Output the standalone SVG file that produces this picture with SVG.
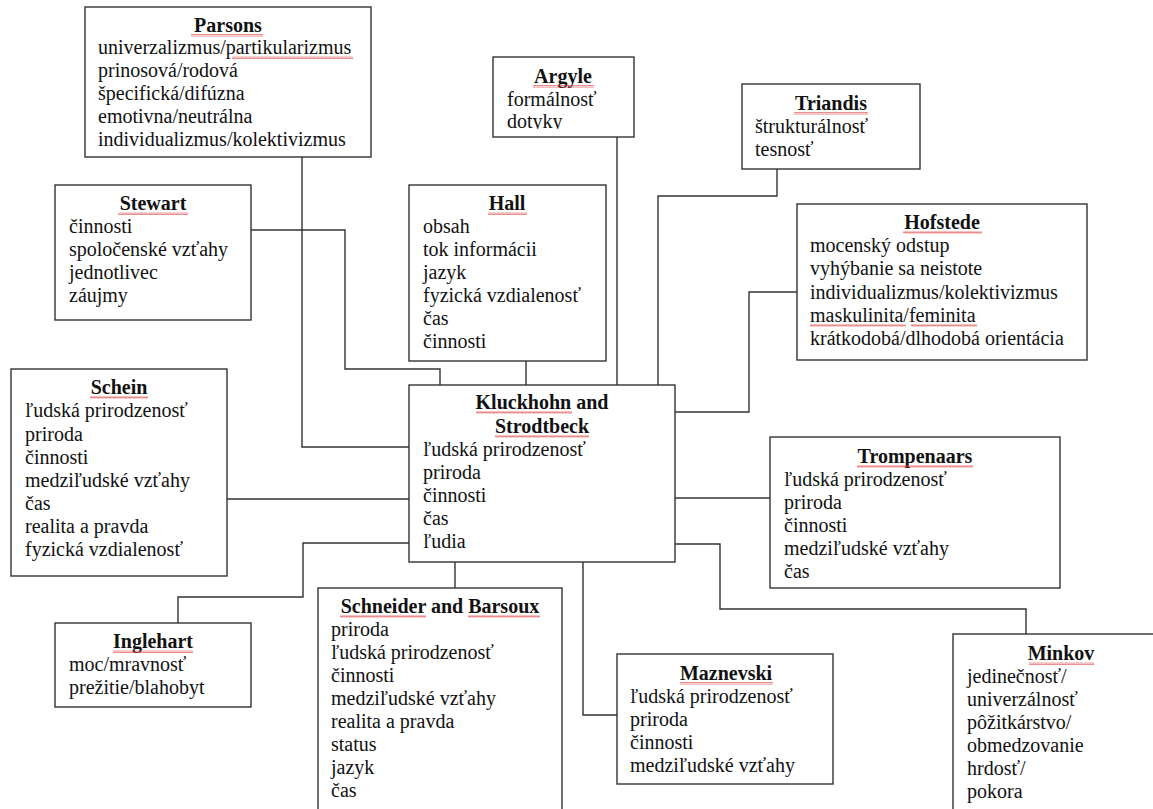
<svg xmlns="http://www.w3.org/2000/svg" width="1153" height="809" viewBox="0 0 1153 809">
<style>
.box{fill:#fff;stroke:#333;stroke-width:1.4}
.t{font-family:"Liberation Serif","Times New Roman",serif;font-size:20px;fill:#111}
.h{font-family:"Liberation Serif","Times New Roman",serif;font-size:20px;font-weight:bold;fill:#111;text-anchor:middle}
.c{fill:none;stroke:#333;stroke-width:1.4}
.w{fill:url(#wave)}
</style>
<defs>
<pattern id="wave" patternUnits="userSpaceOnUse" width="4" height="3">
<path d="M0,2.6 L1,0.4 L2,2.6 L3,0.4 L4,2.6" fill="none" stroke="#e04040" stroke-width="0.6"/>
</pattern>
<clipPath id="argClip"><rect x="493" y="57" width="141" height="72"/></clipPath>
</defs>
<rect width="1153" height="809" fill="#fff"/>

<g id="connectors">
<path class="c" d="M302,157 V447 H409"/>
<path class="c" d="M251,230 H345 V369 H440 V385"/>
<path class="c" d="M526,361 V385"/>
<path class="c" d="M617,137 V385"/>
<path class="c" d="M777,169 V196 H658 V385"/>
<path class="c" d="M797,292 H749 V412 H675"/>
<path class="c" d="M675,498 H770"/>
<path class="c" d="M675,544 H720 V609 H1026 V634"/>
<path class="c" d="M583,562 V715 H617"/>
<path class="c" d="M455,562 V588"/>
<path class="c" d="M410,543 H303 V597 H178 V623"/>
<path class="c" d="M227,499 H410"/>
</g>

<g id="parsons">
<rect class="box" x="85" y="7" width="286" height="150"/>
<text class="h" x="228" y="32">Parsons</text>
<text class="t" x="98" y="54">univerzalizmus/partikularizmus</text>
<text class="t" x="98" y="77">prinosová/rodová</text>
<text class="t" x="98" y="100">špecifická/difúzna</text>
<text class="t" x="98" y="123">emotivna/neutrálna</text>
<text class="t" x="98" y="146">individualizmus/kolektivizmus</text>
<rect class="w" x="191" y="34" width="72" height="3"/>
<rect class="w" x="232" y="56" width="121" height="3"/>
</g>

<g id="stewart">
<rect class="box" x="55" y="185" width="196" height="135"/>
<text class="h" x="153" y="210">Stewart</text>
<text class="t" x="69" y="233">činnosti</text>
<text class="t" x="69" y="256">spoločenské vzťahy</text>
<text class="t" x="69" y="279">jednotlivec</text>
<text class="t" x="69" y="302">záujmy</text>
<rect class="w" x="118" y="212" width="70" height="3"/>
</g>

<g id="argyle">
<rect class="box" x="493" y="57" width="141" height="80"/>
<text class="h" x="563" y="83">Argyle</text>
<text class="t" x="507" y="106">formálnosť</text>
<text class="t" x="507" y="128" clip-path="url(#argClip)">dotyky</text>
<rect class="w" x="533" y="85" width="61" height="3"/>
</g>

<g id="triandis">
<rect class="box" x="742" y="84" width="178" height="85"/>
<text class="h" x="831" y="110">Triandis</text>
<text class="t" x="755" y="133">štrukturálnosť</text>
<text class="t" x="755" y="156">tesnosť</text>
<rect class="w" x="794" y="112" width="74" height="3"/>
</g>

<g id="hall">
<rect class="box" x="409" y="185" width="197" height="176"/>
<text class="h" x="507" y="210">Hall</text>
<text class="t" x="423" y="233">obsah</text>
<text class="t" x="423" y="256">tok informácii</text>
<text class="t" x="423" y="279">jazyk</text>
<text class="t" x="423" y="302">fyzická vzdialenosť</text>
<text class="t" x="423" y="325">čas</text>
<text class="t" x="423" y="348">činnosti</text>
<rect class="w" x="488" y="212" width="39" height="3"/>
</g>

<g id="hofstede">
<rect class="box" x="797" y="204" width="290" height="156"/>
<text class="h" x="942" y="229">Hofstede</text>
<text class="t" x="810" y="252">mocenský odstup</text>
<text class="t" x="810" y="275">vyhýbanie sa neistote</text>
<text class="t" x="810" y="299">individualizmus/kolektivizmus</text>
<text class="t" x="810" y="322">maskulinita/feminita</text>
<text class="t" x="810" y="345">krátkodobá/dlhodobá orientácia</text>
<rect class="w" x="903" y="231" width="79" height="3"/>
<rect class="w" x="810" y="324" width="96" height="3"/>
<rect class="w" x="911" y="324" width="66" height="3"/>
</g>

<g id="schein">
<rect class="box" x="11" y="369" width="216" height="207"/>
<text class="h" x="119" y="394">Schein</text>
<text class="t" x="25" y="417">ľudská prirodzenosť</text>
<text class="t" x="25" y="441">priroda</text>
<text class="t" x="25" y="464">činnosti</text>
<text class="t" x="25" y="487">medziľudské vzťahy</text>
<text class="t" x="25" y="510">čas</text>
<text class="t" x="25" y="533">realita a pravda</text>
<text class="t" x="25" y="556">fyzická vzdialenosť</text>
<rect class="w" x="90" y="396" width="58" height="3"/>
</g>

<g id="kluckhohn">
<rect class="box" x="409" y="385" width="266" height="177"/>
<text class="h" x="542" y="409">Kluckhohn and</text>
<text class="h" x="542" y="433">Strodtbeck</text>
<text class="t" x="423" y="456">ľudská prirodzenosť</text>
<text class="t" x="423" y="479">priroda</text>
<text class="t" x="423" y="502">činnosti</text>
<text class="t" x="423" y="525">čas</text>
<text class="t" x="423" y="548">ľudia</text>
<rect class="w" x="476" y="411" width="96" height="3"/>
<rect class="w" x="495" y="435" width="94" height="3"/>
</g>

<g id="trompenaars">
<rect class="box" x="770" y="437" width="290" height="151"/>
<text class="h" x="915" y="463">Trompenaars</text>
<text class="t" x="784" y="486">ľudská prirodzenosť</text>
<text class="t" x="784" y="509">priroda</text>
<text class="t" x="784" y="532">činnosti</text>
<text class="t" x="784" y="555">medziľudské vzťahy</text>
<text class="t" x="784" y="578">čas</text>
<rect class="w" x="857" y="465" width="116" height="3"/>
</g>

<g id="inglehart">
<rect class="box" x="55" y="623" width="196" height="84"/>
<text class="h" x="153" y="648">Inglehart</text>
<text class="t" x="69" y="671">moc/mravnosť</text>
<text class="t" x="69" y="694">prežitie/blahobyt</text>
<rect class="w" x="113" y="650" width="80" height="3"/>
</g>

<g id="schneider">
<rect class="box" x="318" y="588" width="244" height="240"/>
<text class="h" x="440" y="613">Schneider and Barsoux</text>
<text class="t" x="331" y="636">priroda</text>
<text class="t" x="331" y="659">ľudská prirodzenosť</text>
<text class="t" x="331" y="682">činnosti</text>
<text class="t" x="331" y="705">medziľudské vzťahy</text>
<text class="t" x="331" y="728">realita a pravda</text>
<text class="t" x="331" y="751">status</text>
<text class="t" x="331" y="774">jazyk</text>
<text class="t" x="331" y="797">čas</text>
<rect class="w" x="340" y="615" width="86" height="3"/>
<rect class="w" x="468" y="615" width="72" height="3"/>
</g>

<g id="maznevski">
<rect class="box" x="617" y="654" width="216" height="130"/>
<text class="h" x="726" y="680">Maznevski</text>
<text class="t" x="630" y="703">ľudská prirodzenosť</text>
<text class="t" x="630" y="726">priroda</text>
<text class="t" x="630" y="749">činnosti</text>
<text class="t" x="630" y="772">medziľudské vzťahy</text>
<rect class="w" x="680" y="682" width="93" height="3"/>
</g>

<g id="minkov">
<rect class="box" x="953" y="634" width="240" height="200"/>
<text class="h" x="1061" y="660">Minkov</text>
<text class="t" x="967" y="683">jedinečnosť/</text>
<text class="t" x="967" y="706">univerzálnosť</text>
<text class="t" x="967" y="729">pôžitkárstvo/</text>
<text class="t" x="967" y="752">obmedzovanie</text>
<text class="t" x="967" y="775">hrdosť/</text>
<text class="t" x="967" y="798">pokora</text>
<rect class="w" x="1029" y="662" width="65" height="3"/>
</g>
</svg>
